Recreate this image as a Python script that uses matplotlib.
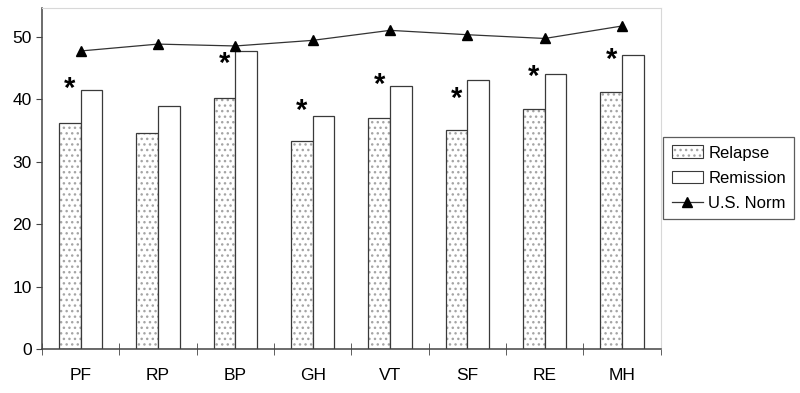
import numpy as np
from matplotlib import pyplot as plt
from matplotlib.patches import Patch
from matplotlib.lines import Line2D

plt.rcParams['font.family'] = ['Liberation Sans', 'DejaVu Sans']

# data
categories = ['PF', 'RP', 'BP', 'GH', 'VT', 'SF', 'RE', 'MH']
relapse = [36.2, 34.5, 40.2, 33.3, 37.0, 35.1, 38.4, 41.2]
remission = [41.5, 38.9, 47.7, 37.3, 42.1, 43.1, 44.0, 47.1]
us_norm = [47.7, 48.8, 48.5, 49.4, 51.0, 50.3, 49.7, 51.7]
signif = [True, False, True, True, True, True, True, True]
star_y = [42.7, 0, 46.8, 39.2, 43.3, 41.2, 44.7, 47.4]

fig = plt.figure(figsize=(8, 3.93), dpi=100)
ax = fig.add_axes([0.0525, 0.112, 0.7735, 0.868])

x = np.arange(len(categories))
w = 0.28

# dotted fill first, then the outlines on top
ax.bar(x - w / 2, relapse, w, color='white', hatch='...', edgecolor='#a5a5a5', linewidth=0)
ax.bar(x - w / 2, relapse, w, fill=False, edgecolor='#3a3a3a', linewidth=0.9)
ax.bar(x + w / 2, remission, w, color='white', edgecolor='#3a3a3a', linewidth=0.9)
ax.plot(x, us_norm, color='#333333', linewidth=0.9, marker='^', markersize=6.5,
        markerfacecolor='black', markeredgecolor='black')

for i in range(len(categories)):
    if signif[i]:
        ax.annotate('*', (x[i] - w / 2, star_y[i]), xytext=(0, -5), textcoords='offset points',
                    ha='center', va='center', fontsize=21, fontweight='bold')

ax.set_xlim(-0.5, len(categories) - 0.5)
ax.set_ylim(0, 54.6)
ax.set_yticks([0, 10, 20, 30, 40, 50])
ax.set_xticks(x)
ax.set_xticklabels(categories)
ax.set_xticks(np.arange(len(categories) + 1) - 0.5, minor=True)
ax.tick_params(axis='x', which='major', length=0, labelsize=12.5, pad=14)
ax.tick_params(axis='x', which='minor', length=8, direction='inout', color='#444444')
ax.tick_params(axis='y', length=4, color='#444444', labelsize=12.5)

for s in ['left', 'bottom']:
    ax.spines[s].set_color('#444444')
    ax.spines[s].set_linewidth(1.1)
for s in ['top', 'right']:
    ax.spines[s].set_color('#d8d8d8')
    ax.spines[s].set_linewidth(0.8)

h_rel = (Patch(facecolor='white', hatch='...', edgecolor='#a5a5a5', linewidth=0),
         Patch(fill=False, edgecolor='#3a3a3a', linewidth=0.8))
h_rem = Patch(facecolor='white', edgecolor='#3a3a3a', linewidth=0.8)
h_norm = Line2D([], [], color='#333333', linewidth=0.9, marker='^', markersize=6.5,
                markerfacecolor='black', markeredgecolor='black')
leg = fig.legend([h_rel, h_rem, h_norm], ['Relapse', 'Remission', 'U.S. Norm'],
                 loc='upper left', bbox_to_anchor=(0.829, 0.651), borderaxespad=0,
                 fontsize=12, frameon=True, fancybox=False, edgecolor='#333333',
                 handlelength=1.9, handleheight=0.8, handletextpad=0.3,
                 borderpad=0.5, labelspacing=0.6)
leg.get_frame().set_linewidth(0.9)

fig.savefig('out.png', dpi=100)
